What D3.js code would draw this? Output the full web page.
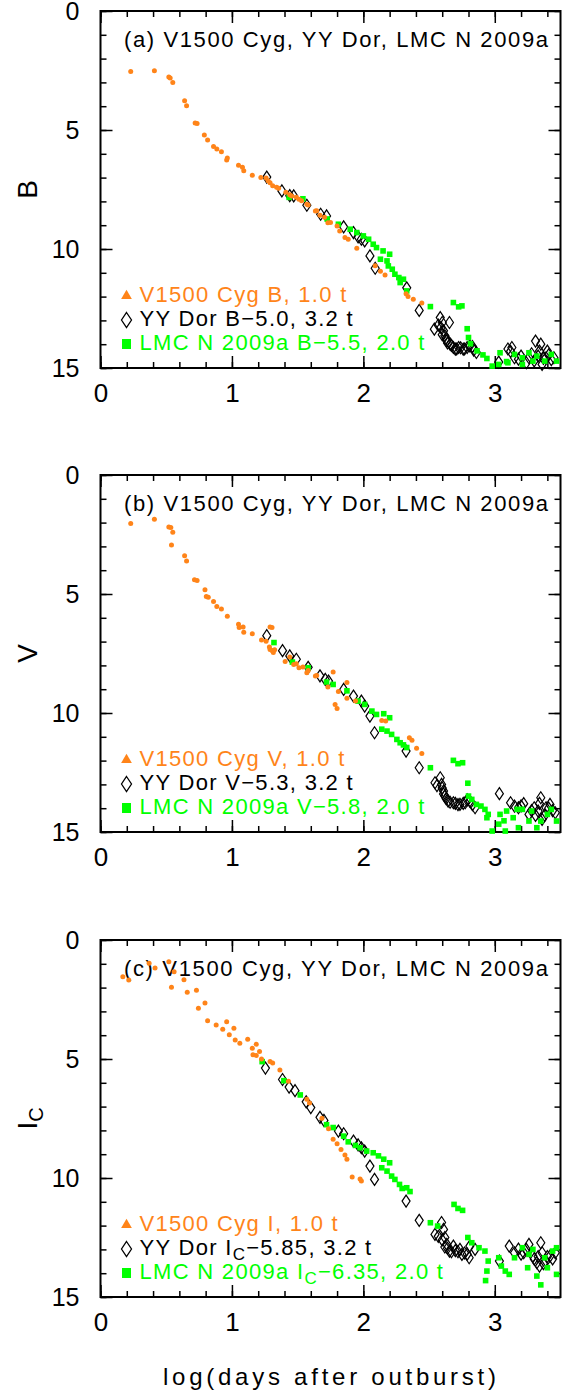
<!DOCTYPE html>
<html>
<head>
<meta charset="utf-8">
<script src="https://cdn.jsdelivr.net/npm/d3@7"></script>
<style>
  body { margin: 0; background: #fff; }
  svg { display: block; }
  text { font-family: "Liberation Sans", Arial, sans-serif; }
</style>
</head>
<body>
<svg width="577" height="1397"></svg>
<script>
// --- data: [log(days after outburst), magnitude] ---
const cygB = [[0.23,2.54],[0.41,2.51],[0.52,2.77],[0.53,2.82],[0.55,3.00],[0.64,3.77],[0.655,3.98],[0.72,4.71],[0.735,4.73],[0.79,5.21],[0.815,5.42],[0.86,5.69],[0.885,5.80],[0.92,5.91],[0.96,6.26],[0.965,6.18],[1.05,6.48],[1.08,6.57],[1.09,6.71],[1.155,6.9],[1.22,7.0],[1.26,7.02],[1.275,7.13],[1.29,7.22],[1.31,7.34],[1.34,7.41],[1.355,7.45],[1.41,7.62],[1.44,7.72],[1.455,7.77],[1.49,7.83],[1.51,7.91],[1.53,7.97],[1.57,8.12],[1.58,8.15],[1.635,8.40],[1.645,8.39],[1.67,8.58],[1.705,8.67],[1.73,8.90],[1.75,8.89],[1.80,9.03],[1.82,9.24],[1.86,9.52],[1.885,9.59],[1.95,9.97],[2.09,10.7],[2.13,10.93],[2.165,11.09],[2.325,11.88],[2.34,12.0],[2.38,12.11],[2.445,12.27]];
const dorB = [[1.265,6.98],[1.38,7.56],[1.44,7.76],[1.47,7.77],[1.57,8.16],[1.675,8.54],[1.72,8.61],[1.85,9.07],[1.925,9.31],[1.96,9.49],[1.985,9.59],[2.01,9.66],[2.05,10.29],[2.09,10.81],[2.33,11.63],[2.425,12.58],[2.54,13.37],[2.57,13.2],[2.585,12.88],[2.59,13.3],[2.60,13.09],[2.60,13.6],[2.61,13.44],[2.62,13.65],[2.63,13.75],[2.635,13.86],[2.64,13.95],[2.655,13.09],[2.66,14.0],[2.67,14.05],[2.685,14.14],[2.70,14.21],[2.71,14.2],[2.725,14.14],[2.74,14.15],[2.76,14.21],[2.77,14.2],[2.79,14.14],[2.81,14.07],[2.83,14.1],[2.84,14.25],[2.86,14.35],[3.03,14.75],[3.10,14.2],[3.12,14.3],[3.13,14.14],[3.15,14.57],[3.18,14.63],[3.20,14.5],[3.24,14.78],[3.26,14.57],[3.28,14.4],[3.30,14.7],[3.31,13.87],[3.33,14.5],[3.34,14.29],[3.35,14.0],[3.36,14.85],[3.37,14.6],[3.39,14.57],[3.40,14.29],[3.41,14.45],[3.43,14.65],[3.45,14.57]];
const lmcB = [[1.435,7.83],[1.54,7.89],[1.725,8.74],[1.81,8.96],[1.90,9.17],[1.95,9.31],[2.00,9.45],[2.04,9.59],[2.075,9.80],[2.10,9.94],[2.15,10.08],[2.20,10.22],[2.13,10.43],[2.18,10.50],[2.19,10.71],[2.22,10.85],[2.24,11.06],[2.27,11.20],[2.305,11.27],[2.28,11.41],[2.33,11.76],[2.51,12.42],[2.685,12.25],[2.725,12.43],[2.75,12.39],[2.79,13.35],[2.80,13.72],[2.815,13.98],[2.865,14.28],[2.91,14.45],[2.94,14.60],[2.98,14.92],[3.03,14.85],[3.04,14.36],[3.09,14.73],[3.10,14.78],[3.15,14.43],[3.21,14.57],[3.21,14.85],[3.26,14.36],[3.29,14.71],[3.32,14.5],[3.38,14.71],[3.43,14.43],[3.47,14.71]];

const cygV = [[0.23,2.04],[0.41,1.86],[0.52,2.18],[0.535,2.21],[0.55,2.41],[0.54,2.94],[0.64,3.39],[0.655,3.61],[0.715,4.40],[0.735,4.43],[0.795,4.82],[0.805,5.10],[0.82,5.14],[0.86,5.31],[0.885,5.52],[0.92,5.63],[0.965,5.94],[1.05,6.27],[1.055,6.41],[1.085,6.39],[1.09,6.61],[1.155,6.67],[1.29,6.39],[1.305,6.41],[1.225,6.93],[1.26,6.99],[1.285,7.23],[1.29,7.33],[1.305,7.37],[1.315,7.46],[1.325,7.34],[1.405,7.84],[1.44,7.65],[1.47,7.96],[1.49,7.93],[1.51,8.10],[1.54,8.07],[1.57,8.31],[1.58,8.21],[1.635,8.45],[1.645,8.42],[1.73,8.91],[1.77,8.28],[1.81,9.10],[1.875,8.72],[1.875,9.38],[1.785,9.64],[1.80,9.81],[1.94,9.50],[2.14,10.31],[2.17,10.34],[2.35,11.04],[2.37,11.15],[2.405,11.48],[2.445,11.70]];
const dorV = [[1.265,6.75],[1.385,7.38],[1.44,7.60],[1.49,7.74],[1.58,8.08],[1.67,8.44],[1.71,8.59],[1.735,8.66],[1.85,9.01],[1.925,9.29],[1.985,9.50],[2.01,9.71],[2.05,10.13],[2.085,10.83],[2.325,11.60],[2.425,12.30],[2.545,12.93],[2.56,13.05],[2.585,12.72],[2.595,13.0],[2.60,13.15],[2.61,13.28],[2.61,13.4],[2.62,13.49],[2.63,13.6],[2.645,13.70],[2.66,13.75],[2.685,13.77],[2.70,13.8],[2.72,13.85],[2.735,13.84],[2.76,13.8],[2.775,13.77],[2.79,13.65],[2.81,13.70],[2.83,13.85],[2.85,13.98],[3.035,13.39],[3.12,13.77],[3.15,13.91],[3.18,13.98],[3.20,13.9],[3.22,13.81],[3.26,14.26],[3.28,14.1],[3.30,13.98],[3.31,14.3],[3.33,14.12],[3.34,13.8],[3.35,13.56],[3.36,14.47],[3.38,14.3],[3.39,13.98],[3.41,14.0],[3.42,13.84],[3.44,14.1],[3.46,14.19]];
const lmcV = [[1.32,7.04],[1.46,7.86],[1.58,8.10],[1.72,8.70],[1.77,8.80],[1.875,9.07],[1.96,9.50],[2.01,9.64],[2.065,9.92],[2.10,10.06],[2.155,10.03],[2.20,10.20],[2.14,10.68],[2.18,10.76],[2.215,10.90],[2.255,11.11],[2.28,11.25],[2.305,11.34],[2.33,11.45],[2.51,12.30],[2.685,11.99],[2.72,12.13],[2.755,12.09],[2.795,12.95],[2.80,13.49],[2.825,13.63],[2.86,13.84],[2.895,13.91],[2.925,14.05],[2.94,14.40],[2.95,14.26],[2.98,14.96],[3.03,14.67],[3.04,14.26],[3.07,14.53],[3.08,14.96],[3.09,14.12],[3.14,14.40],[3.17,14.05],[3.18,14.82],[3.21,14.05],[3.26,14.54],[3.28,14.12],[3.32,14.82],[3.35,14.54],[3.40,14.26],[3.43,14.05],[3.47,14.54]];

const cygI = [[0.17,1.54],[0.215,1.68],[0.37,0.98],[0.415,1.18],[0.52,0.91],[0.56,1.33],[0.54,1.99],[0.635,1.67],[0.66,2.20],[0.73,2.11],[0.745,2.87],[0.795,2.65],[0.815,3.39],[0.88,3.57],[0.93,3.75],[0.96,3.43],[0.98,3.98],[1.015,3.71],[1.025,4.20],[1.06,4.34],[1.12,4.17],[1.155,4.55],[1.185,4.38],[1.16,4.82],[1.21,4.68],[1.185,4.85],[1.225,5.0],[1.29,5.11],[1.31,5.17],[1.365,5.46],[1.43,5.93],[1.57,6.69],[1.59,6.85],[1.685,7.49],[1.735,7.93],[1.77,8.37],[1.80,8.56],[1.83,8.80],[1.86,9.03],[1.875,9.21],[1.915,9.96],[1.975,10.04],[1.985,10.13]];
const dorI = [[1.255,5.38],[1.385,5.86],[1.435,6.18],[1.48,6.33],[1.565,6.80],[1.60,7.04],[1.67,7.45],[1.70,7.58],[1.81,8.03],[1.85,8.14],[1.925,8.45],[1.96,8.61],[1.985,8.73],[2.01,8.87],[2.05,9.50],[2.085,10.06],[2.325,10.97],[2.425,11.78],[2.545,12.37],[2.57,12.45],[2.595,11.87],[2.60,12.6],[2.61,12.16],[2.62,12.50],[2.62,12.9],[2.635,12.79],[2.64,12.95],[2.655,13.07],[2.67,13.1],[2.685,12.86],[2.70,13.05],[2.72,13.1],[2.735,13.0],[2.75,13.21],[2.77,13.15],[2.79,13.2],[2.805,13.35],[2.81,12.86],[2.85,13.0],[3.035,13.49],[3.11,12.86],[3.15,13.14],[3.18,12.99],[3.20,13.2],[3.22,13.14],[3.24,13.0],[3.26,12.79],[3.29,13.28],[3.30,13.4],[3.32,13.56],[3.33,13.3],[3.34,13.70],[3.35,12.72],[3.36,13.14],[3.37,13.6],[3.39,13.49],[3.40,13.3],[3.42,13.28],[3.44,13.4],[3.46,13.14]];
const lmcI = [[1.23,5.11],[1.395,5.91],[1.52,6.51],[1.72,7.76],[1.77,7.88],[1.85,8.24],[1.885,8.48],[1.94,8.63],[1.975,8.73],[2.025,8.87],[2.075,8.94],[2.115,9.07],[2.155,9.21],[2.20,9.36],[2.14,9.57],[2.18,9.71],[2.215,9.92],[2.24,10.06],[2.275,10.27],[2.295,10.44],[2.33,10.41],[2.355,10.57],[2.51,11.88],[2.565,12.02],[2.69,11.11],[2.72,11.28],[2.755,11.36],[2.795,12.50],[2.825,12.72],[2.88,12.93],[2.925,13.07],[2.95,13.49],[2.94,13.91],[2.93,14.31],[3.03,13.35],[3.05,13.70],[3.08,13.91],[3.11,14.05],[3.15,13.35],[3.21,12.93],[3.25,13.77],[3.26,13.21],[3.29,13.0],[3.32,14.12],[3.35,14.49],[3.38,13.35],[3.40,13.77],[3.44,13.07],[3.47,12.93],[3.47,14.05]];

const xTicks = [0, 1, 2, 3];
const yTicks = [0, 5, 10, 15];
const panelTags = ["(a)", "(b)", "(c)"];
const bandLabels = [["B"], ["V"], ["I", "C"]];
// legend lines: [plain text, subscript, plain text]
const cygLegend = [["V1500 Cyg B, 1.0 t"], ["V1500 Cyg V, 1.0 t"], ["V1500 Cyg I, 1.0 t"]];
const dorLegend = [["YY Dor B\u22125.0, 3.2 t"], ["YY Dor V\u22125.3, 3.2 t"], ["YY Dor I", "C", "\u22125.85, 3.2 t"]];
const lmcLegend = [["LMC N 2009a B\u22125.5, 2.0 t"], ["LMC N 2009a V\u22125.8, 2.0 t"], ["LMC N 2009a I", "C", "\u22126.35, 2.0 t"]];

const ORANGE = "#ff8419", GREEN = "#00ff00";

// --- layout ---
const svg = d3.select("svg");
const left = 100.5, right = 560.5, plotH = 357;
const panelTops = [11, 475, 940];
const x = d3.scaleLinear().domain([0, 3.5]).range([left, right]);

const diamond = (w, h) => `M0,${-h/2}L${w/2},0L0,${h/2}L${-w/2},0Z`;

function richText(sel, parts, subSize) {
    parts.forEach((p, i) => {
        const t = sel.append("tspan").text(p);
        if (i % 2 === 1) t.attr("font-size", subSize).attr("baseline-shift", "-30%");
    });
}

const series = [[cygB, dorB, lmcB], [cygV, dorV, lmcV], [cygI, dorI, lmcI]];

panelTops.forEach((top, p) => {
    const y = d3.scaleLinear().domain([0, 15]).range([top, top + plotH]);
    const g = svg.append("g");
    const [cyg, dor, lmc] = series[p];

    // frame + ticks (all inward)
    const minorX = d3.range(0, 3.51, 0.2), minorY = d3.range(0, 15.1, 1);
    const addAxis = (axis, tr) => g.append("g").attr("transform", tr).call(axis)
        .call(s => s.select(".domain").remove())
        .call(s => s.selectAll("line").attr("stroke-width", 1.5));
    addAxis(d3.axisBottom(x).tickValues(minorX).tickSize(-6).tickFormat(""), `translate(0,${top + plotH})`);
    addAxis(d3.axisTop(x).tickValues(minorX).tickSize(-6).tickFormat(""), `translate(0,${top})`);
    addAxis(d3.axisLeft(y).tickValues(minorY).tickSize(-6).tickFormat(""), `translate(${left},0)`);
    addAxis(d3.axisRight(y).tickValues(minorY).tickSize(-6).tickFormat(""), `translate(${right},0)`);
    addAxis(d3.axisBottom(x).tickValues(xTicks).tickSize(-12).tickPadding(16).tickFormat(d3.format("d")), `translate(0,${top + plotH})`)
        .selectAll("text").attr("font-size", 26).attr("fill", "#000").attr("font-family", null);
    addAxis(d3.axisTop(x).tickValues(xTicks).tickSize(-12).tickFormat(""), `translate(0,${top})`);
    addAxis(d3.axisLeft(y).tickValues(yTicks).tickSize(-12).tickPadding(21).tickFormat(d3.format("d")), `translate(${left},0)`)
        .selectAll("text").attr("font-size", 25).attr("fill", "#000").attr("font-family", null);
    addAxis(d3.axisRight(y).tickValues(yTicks).tickSize(-12).tickFormat(""), `translate(${right},0)`);
    g.append("rect").attr("x", left).attr("y", top).attr("width", right - left).attr("height", plotH)
        .attr("fill", "none").attr("stroke", "#000").attr("stroke-width", 2);

    // y axis label
    const yl = g.append("text").attr("transform", `translate(37,${top + plotH / 2}) rotate(-90)`)
        .attr("text-anchor", "middle").attr("font-size", 28);
    richText(yl, bandLabels[p], 20);

    // title
    g.append("text").attr("x", 124).attr("y", top + 36).attr("font-size", 22)
        .attr("textLength", 424).attr("lengthAdjust", "spacing")
        .text(`${panelTags[p]} V1500 Cyg, YY Dor, LMC N 2009a`);

    // data: diamonds, then squares, then dots
    g.append("g").selectAll("path").data(dor).join("path")
        .attr("transform", d => `translate(${x(d[0])},${y(d[1])})`)
        .attr("d", diamond(8, 12)).attr("fill", "none").attr("stroke", "#000").attr("stroke-width", 1.2);
    g.append("g").selectAll("rect").data(lmc).join("rect")
        .attr("x", d => x(d[0]) - 2.8).attr("y", d => y(d[1]) - 2.8)
        .attr("width", 5.6).attr("height", 5.6).attr("fill", GREEN);
    g.append("g").selectAll("circle").data(cyg).join("circle")
        .attr("cx", d => x(d[0])).attr("cy", d => y(d[1])).attr("r", 2.5).attr("fill", ORANGE);

    // legend
    const lx = 126.5, ltx = 139.5;
    g.append("path").attr("transform", `translate(${lx},${top + 285})`)
        .attr("d", d3.symbol(d3.symbolTriangle, 50)()).attr("fill", ORANGE);
    g.append("path").attr("transform", `translate(${lx},${top + 309})`)
        .attr("d", diamond(10, 15)).attr("fill", "none").attr("stroke", "#000").attr("stroke-width", 1.3);
    g.append("rect").attr("x", lx - 4.5).attr("y", top + 328).attr("width", 9).attr("height", 10).attr("fill", GREEN);

    const legendRows = [[cygLegend[p], ORANGE, 291], [dorLegend[p], "#000", 315], [lmcLegend[p], GREEN, 339]];
    legendRows.forEach(([parts, col, dy]) => {
        const t = g.append("text").attr("x", ltx).attr("y", top + dy).attr("font-size", 22)
            .attr("fill", col).attr("letter-spacing", 1.3);
        richText(t, parts, 17);
    });
});

svg.append("text").attr("x", 163).attr("y", 1385).attr("font-size", 24)
    .attr("textLength", 333).attr("lengthAdjust", "spacing")
    .text("log(days after outburst)");
</script>
</body>
</html>
